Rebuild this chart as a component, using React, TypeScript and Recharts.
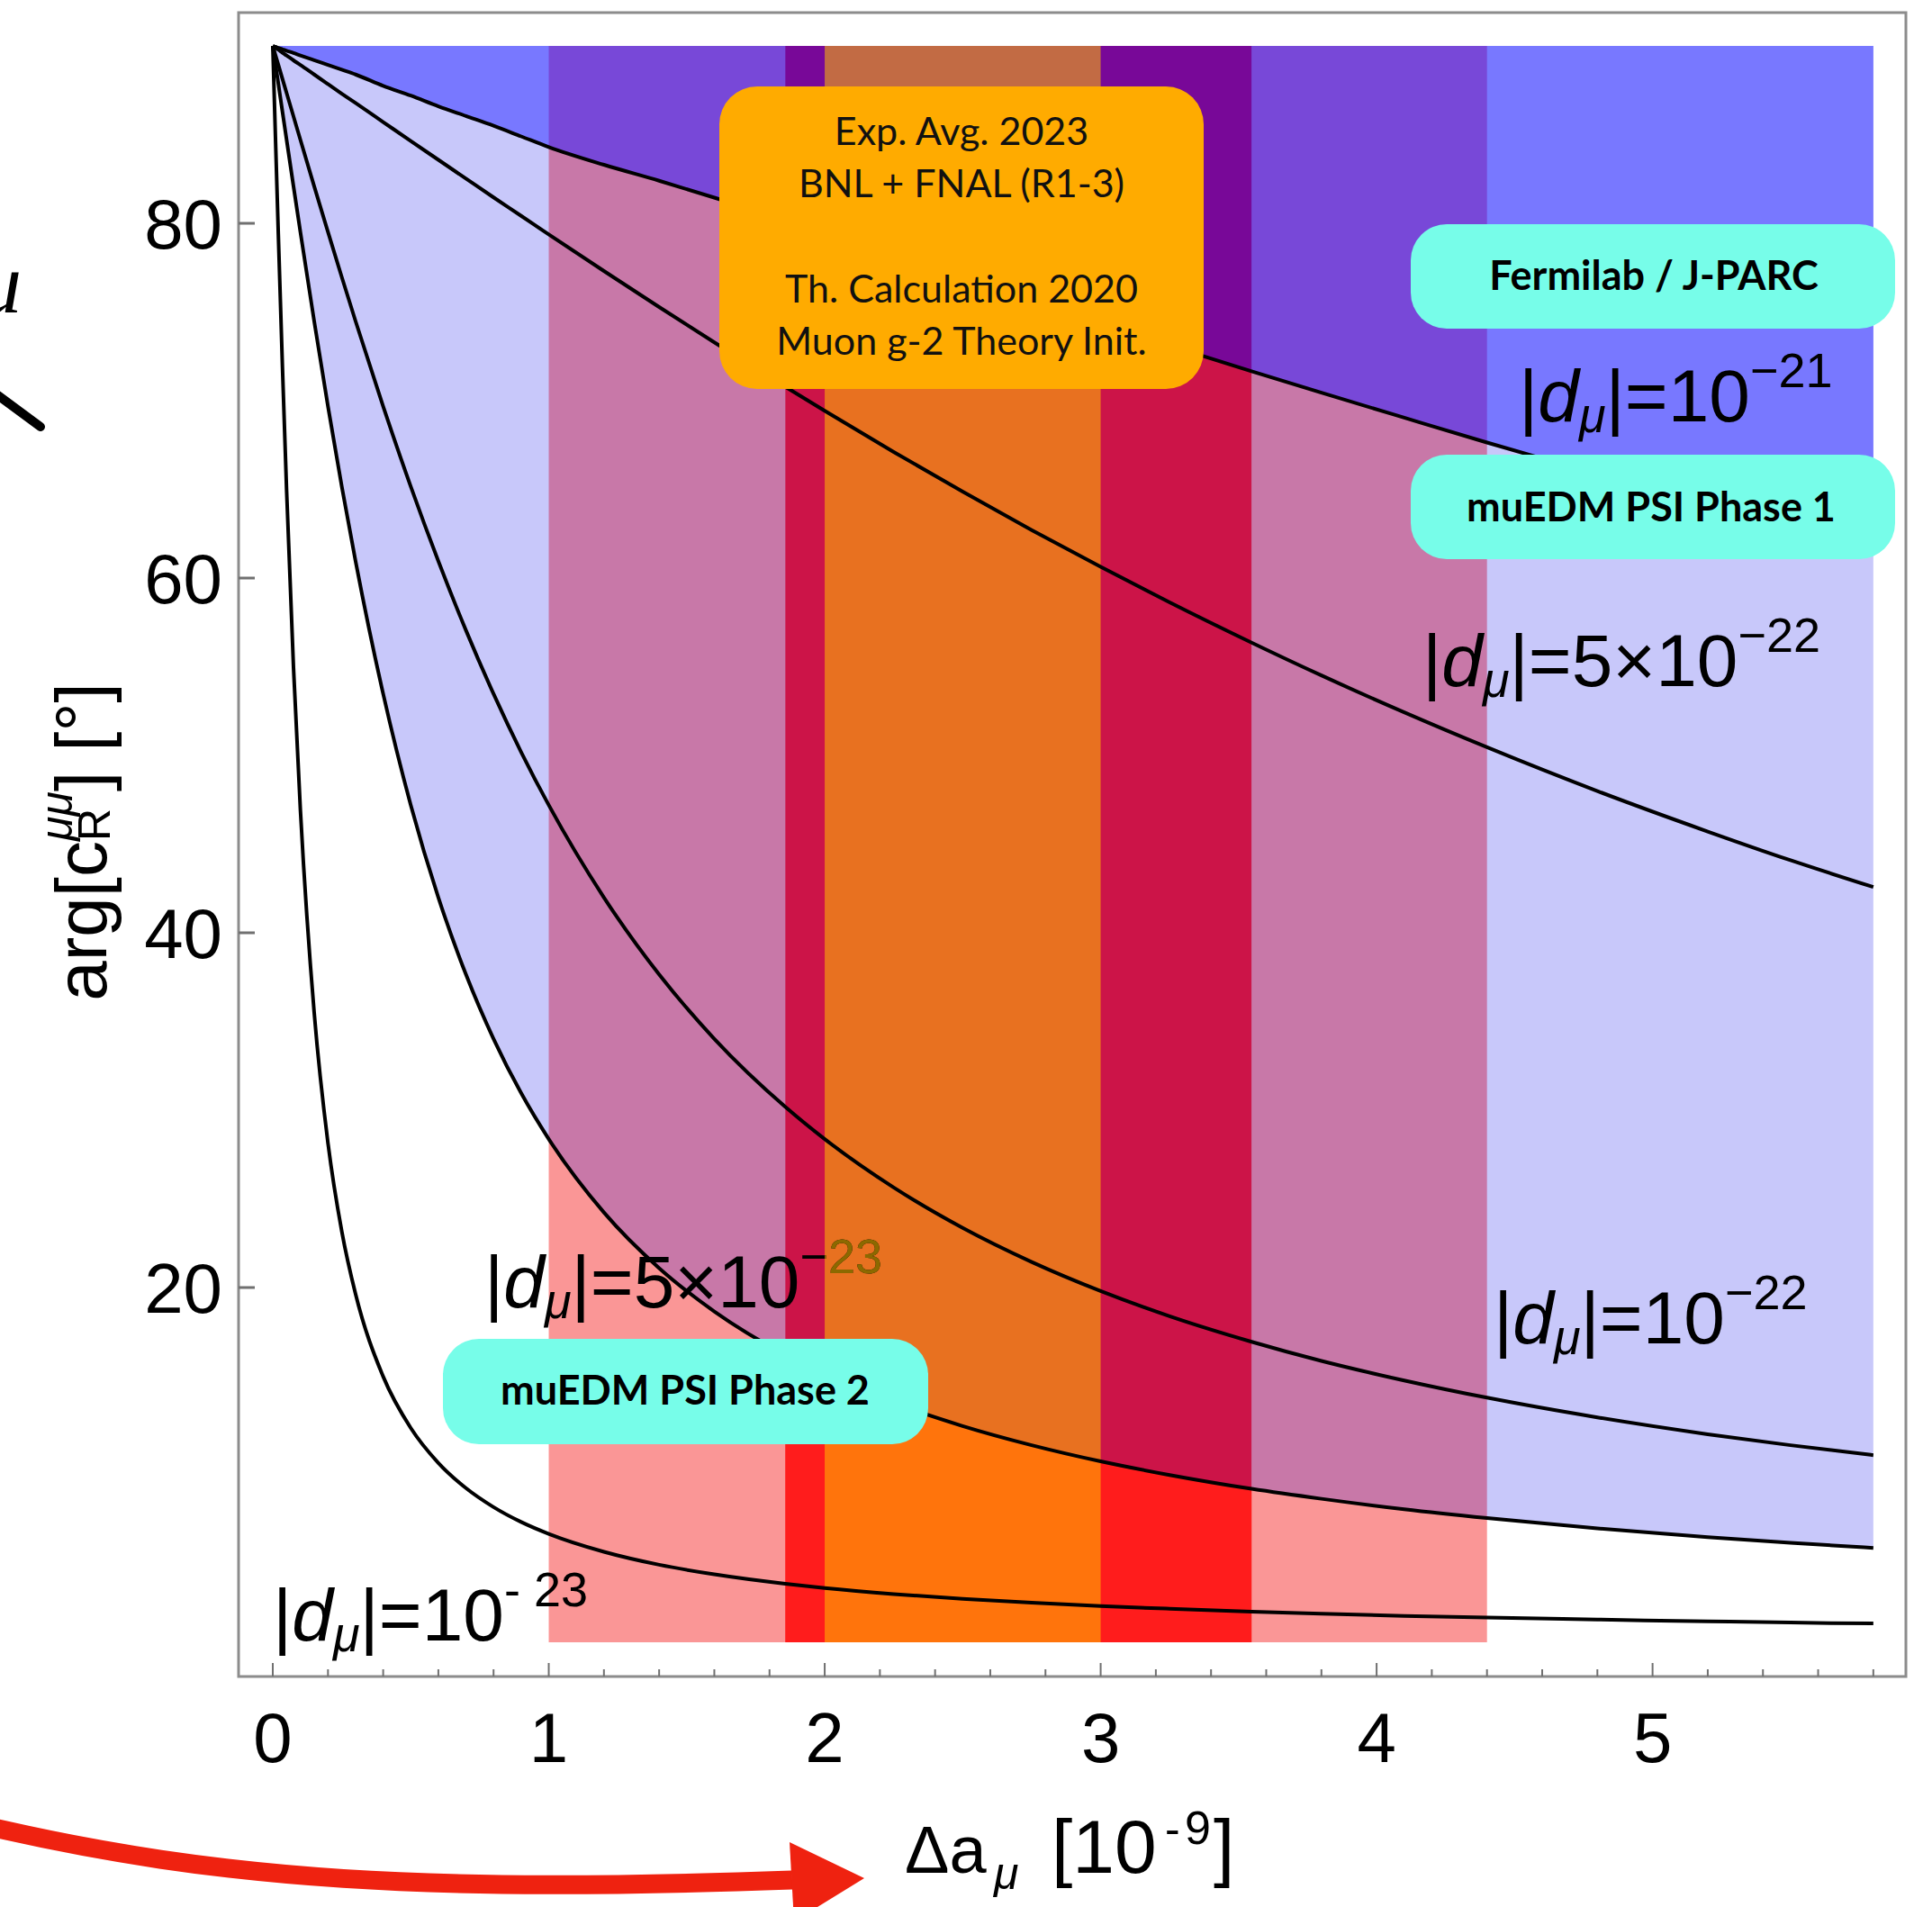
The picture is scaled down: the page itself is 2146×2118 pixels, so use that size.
import React from 'react';
import { ComposedChart, Area, Line, XAxis, YAxis, ReferenceArea } from 'recharts';

// ---- data ----
const xs = [0, 0.005, 0.01, 0.02, 0.035, 0.05, 0.075, 0.1, 0.15, 0.2, 0.25, 0.3, 0.4, 0.5, 0.6, 0.7, 0.8, 0.9, 1.0, 1.2, 1.4, 1.6, 1.857, 2.0, 2.25, 2.5, 2.75, 3.0, 3.25, 3.547, 3.8, 4.1, 4.4, 4.8, 5.2, 5.5, 5.8];
const d1e23 = [90, 87.32, 84.66, 79.41, 71.89, 64.95, 54.97, 46.93, 35.5, 28.14, 23.17, 19.63, 14.98, 12.08, 10.11, 8.69, 7.62, 6.78, 6.11, 5.1, 4.37, 3.83, 3.3, 3.06, 2.72, 2.45, 2.23, 2.04, 1.89, 1.73, 1.61, 1.49, 1.39, 1.28, 1.18, 1.11, 1.06];
const d5e23 = [90, 89.47, 88.94, 87.88, 86.29, 84.71, 82.09, 79.51, 74.48, 69.68, 65.16, 60.95, 53.47, 47.2, 41.99, 37.65, 34.02, 30.96, 28.37, 24.23, 21.09, 18.65, 16.21, 15.11, 13.5, 12.19, 11.11, 10.2, 9.43, 8.65, 8.09, 7.5, 7.0, 6.42, 5.93, 5.61, 5.32];
const d1e22 = [90, 89.73, 89.47, 88.94, 88.14, 87.35, 86.03, 84.71, 82.09, 79.51, 76.97, 74.48, 69.68, 65.16, 60.95, 57.05, 53.47, 50.19, 47.2, 41.99, 37.65, 34.02, 30.19, 28.37, 25.64, 23.36, 21.44, 19.8, 18.38, 16.94, 15.86, 14.76, 13.79, 12.68, 11.73, 11.11, 10.55];
const d5e22 = [90, 89.95, 89.89, 89.79, 89.62, 89.46, 89.19, 88.93, 88.39, 87.85, 87.31, 86.78, 85.71, 84.64, 83.58, 82.52, 81.46, 80.42, 79.37, 77.31, 75.28, 73.29, 70.79, 69.43, 67.11, 64.87, 62.71, 60.63, 58.63, 56.36, 54.51, 52.43, 50.46, 47.99, 45.71, 44.09, 42.58];
const d1e21 = [90, 89.97, 89.95, 89.89, 89.81, 89.73, 89.6, 89.46, 89.2, 88.93, 88.66, 88.39, 87.75, 87.2, 86.6, 86.05, 85.5, 84.9, 84.3, 83.3, 82.4, 81.45, 80.15, 79.41, 78.13, 76.85, 75.59, 74.34, 73.11, 71.66, 70.45, 69.04, 67.64, 65.84, 64.08, 62.8, 61.54];

const bandPink = [1.0, 4.4];
const bandRed = [1.857, 3.547];
const bandOrange = [2.0, 3.0];
const yTop = 90;
const yBottom = 0;

const xTicks = [0, 0.2, 0.4, 0.6, 0.8, 1, 1.2, 1.4, 1.6, 1.8, 2, 2.2, 2.4, 2.6, 2.8, 3, 3.2, 3.4, 3.6, 3.8, 4, 4.2, 4.4, 4.6, 4.8, 5, 5.2, 5.4, 5.6, 5.8];
const yTicks = [20, 40, 60, 80];
const xDomain = [-0.124, 5.918];
const yDomain = [-1.93, 91.88];

const rows = xs.map((x, i) => ({ x, a: d1e23[i], b: d5e23[i], c: d1e22[i], d: d5e22[i], e: d1e21[i] }));

const inPink = (x: number) => (x >= bandPink[0] && x <= bandRed[0]) || (x >= bandRed[1] && x <= bandPink[1]);
const inRed = (x: number) => x >= bandRed[0] && x <= bandRed[1];

const SANS = "'Liberation Sans', Arial, Helvetica, sans-serif";
const LATO = "Lato, 'Open Sans', sans-serif";

const XTick = (p: any) => {
  const v = p.payload.value;
  const major = Math.abs(v - Math.round(v)) < 1e-6;
  return (
    <g>
      <line x1={p.x} x2={p.x} y1={p.y} y2={p.y - (major ? 15 : 8)} stroke="#707070" strokeWidth={2} />
      {major && (
        <text x={p.x} y={p.y + 95} textAnchor="middle" fontFamily={SANS} fontSize={78} fill="#000">
          {Math.round(v)}
        </text>
      )}
    </g>
  );
};

const YTick = (p: any) => (
  <g>
    <line x1={p.x} x2={p.x + 18} y1={p.y} y2={p.y} stroke="#707070" strokeWidth={3} />
    <text x={p.x - 18} y={p.y + 28} textAnchor="end" fontFamily={SANS} fontSize={78} fill="#000">
      {p.payload.value}
    </text>
  </g>
);

function DLab({ x, y, pre, exp, fill }: { x: number; y: number; pre: string; exp: string; fill: string }) {
  return (
    <text x={x} y={y} fontFamily={SANS} fontSize={82} fill={fill}>
      <tspan>|</tspan>
      <tspan fontStyle="italic">d</tspan>
      <tspan fontStyle="italic" fontSize={54} dy={12}>μ</tspan>
      <tspan dy={-12}>{'|=' + pre + '10'}</tspan>
      <tspan fontSize={54} dy={-38}>{exp}</tspan>
    </text>
  );
}

const curveLabels = [
  { x: 1687, y: 468, pre: '', exp: '−21' },
  { x: 1580, y: 762, pre: '5×', exp: '−22' },
  { x: 1659, y: 1492, pre: '', exp: '−22' },
  { x: 538, y: 1452, pre: '5×', exp: '−23' },
  { x: 303, y: 1822, pre: '', exp: '- 23' },
];

export default function App() {
  const common = { isAnimationActive: false, type: 'monotone' as const, stroke: 'none', fillOpacity: 1, activeDot: false, dot: false };
  const lineProps = { type: 'monotone' as const, stroke: '#000', strokeWidth: 4, dot: false, activeDot: false, isAnimationActive: false };
  return (
    <div style={{ position: 'absolute', left: 0, top: 0, width: 2146, height: 2118, overflow: 'hidden', background: '#fff' }}>
      <ComposedChart width={2146} height={2118} data={rows} margin={{ top: 14, right: 29, bottom: 136, left: 145 }}>
        <XAxis dataKey="x" type="number" domain={xDomain} allowDataOverflow ticks={xTicks} interval={0}
          tick={(p: any) => <XTick {...p} />} tickLine={false} axisLine={false} tickSize={0} tickMargin={0} height={120} />
        <YAxis type="number" domain={yDomain} allowDataOverflow ticks={yTicks} interval={0}
          tick={(p: any) => <YTick {...p} />} tickLine={false} axisLine={false} tickSize={0} tickMargin={0} width={120} />

        <ReferenceArea x1={bandPink[0]} x2={bandPink[1]} y1={yBottom} y2={yTop} fill="#fa9696" fillOpacity={1} stroke="none" ifOverflow="visible" />
        <ReferenceArea x1={bandRed[0]} x2={bandRed[1]} y1={yBottom} y2={yTop} fill="#ff1c1c" fillOpacity={1} stroke="none" ifOverflow="visible" />

        <Area {...common} dataKey={(r: any) => [r.b, yTop]} fill="#c8c8fa" />
        <Area {...common} dataKey={(r: any) => (inPink(r.x) ? [r.b, yTop] : null)} fill="#c878a8" />
        <Area {...common} dataKey={(r: any) => (inRed(r.x) ? [r.b, yTop] : null)} fill="#cc1448" />
        <Area {...common} dataKey={(r: any) => [r.e, yTop]} fill="#7878ff" />
        <Area {...common} dataKey={(r: any) => (inPink(r.x) ? [r.e, yTop] : null)} fill="#7848d8" />
        <Area {...common} dataKey={(r: any) => (inRed(r.x) ? [r.e, yTop] : null)} fill="#780898" />

        <Line {...lineProps} dataKey="a" />
        <Line {...lineProps} dataKey="b" />
        <Line {...lineProps} dataKey="c" />
        <Line {...lineProps} dataKey="d" />
        <Line {...lineProps} dataKey="e" />

        <ReferenceArea x1={bandOrange[0]} x2={bandOrange[1]} y1={yBottom} y2={yTop} fill="#ffbe00" fillOpacity={0.55} stroke="none" ifOverflow="visible" />
        <ReferenceArea x1={xDomain[0]} x2={xDomain[1]} y1={yDomain[0]} y2={yDomain[1]} fill="none" stroke="#8c8c8c" strokeWidth={3} ifOverflow="visible" />
      </ComposedChart>

      <svg style={{ position: 'absolute', left: 0, top: 0, pointerEvents: 'none' }} width={2146} height={2118}>
        <defs>
          <clipPath id="orangeBandClip">
            <rect x={916} y={0} width={306} height={1830} />
          </clipPath>
        </defs>

        {/* curve labels */}
        {curveLabels.map((l, i) => (
          <DLab key={'k' + i} {...l} fill="#000" />
        ))}
        <g clipPath="url(#orangeBandClip)">
          {curveLabels.map((l, i) => (
            <DLab key={'o' + i} {...l} fill="#8c6900" />
          ))}
        </g>

        {/* orange callout */}
        <rect x={799} y={96} width={538} height={336} rx={42} fill="#ffab00" />
        <g fontFamily={LATO} fontSize={43} fill="#111" textAnchor="middle">
          <text x={1068} y={161}>Exp. Avg. 2023</text>
          <text x={1068} y={219}>BNL + FNAL (R1-3)</text>
          <text x={1068} y={336}>Th. Calculation 2020</text>
          <text x={1068} y={394}>Muon g-2 Theory Init.</text>
        </g>
        {/* cyan callouts */}
        <rect x={1567} y={249} width={538} height={116} rx={40} fill="#77fde9" />
        <rect x={1567} y={505} width={538} height={116} rx={40} fill="#77fde9" />
        <rect x={492} y={1487} width={539} height={117} rx={40} fill="#77fde9" />
        <g fontFamily={LATO} fontSize={45} fontWeight={700} fill="#000" textAnchor="middle">
          <text x={1837} y={322}>Fermilab / J-PARC</text>
          <text x={1834} y={579}>muEDM PSI Phase 1</text>
          <text x={761} y={1560}>muEDM PSI Phase 2</text>
        </g>

        {/* y axis title */}
        <text transform="rotate(-90 118 935)" x={118} y={935} textAnchor="middle" fontFamily={SANS} fontSize={80} fill="#000">
          <tspan>arg[c</tspan>
          <tspan fontSize={50} dy={4}>R</tspan>
          <tspan fontSize={50} fontStyle="italic" dx={-36} dy={-42}>μμ</tspan>
          <tspan dy={38}>] [°]</tspan>
        </text>

        {/* x axis title */}
        <text y={2080} fontFamily={SANS} fontSize={74} fill="#000">
          <tspan x={1005}>Δa</tspan>
          <tspan x={1104} dy={18} fontSize={50} fontStyle="italic">μ</tspan>
          <tspan x={1168} dy={-18} fontSize={84}>[10</tspan>
          <tspan x={1294} dy={-32} fontSize={50}>-</tspan>
          <tspan x={1316} fontSize={52}>9</tspan>
          <tspan x={1348} dy={32} fontSize={84}>]</tspan>
        </text>

        {/* cropped fragments at left */}
        <text x={24} y={347} textAnchor="end" fontFamily="'Liberation Serif', serif" fontStyle="italic" fontSize={96} fill="#000">μ</text>
        <line x1={-5} y1={437} x2={45} y2={474} stroke="#000" strokeWidth={10} strokeLinecap="round" />

        {/* red arrow */}
        <path d="M -20 2027 C 250 2090, 480 2102, 880 2088" stroke="#ef2210" strokeWidth={21} fill="none" />
        <polygon points="877,2046 960,2086 882,2134" fill="#ef2210" />
      </svg>
    </div>
  );
}
